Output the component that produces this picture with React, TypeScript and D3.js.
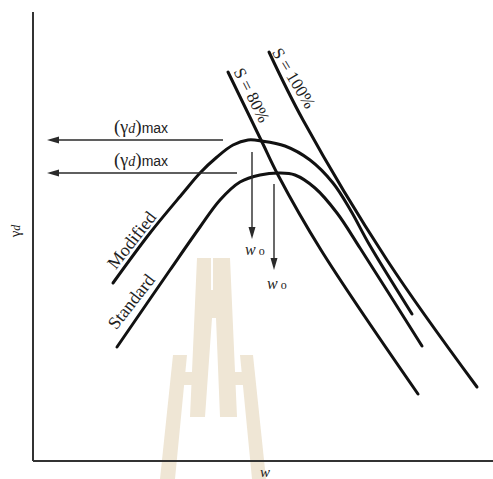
import React from "react";
import * as d3 from "d3";

// Data in arbitrary units: w (moisture) on x, gamma_d on y
const modifiedW = [8.0, 11.7, 15.0, 16.7, 18.4, 20.0, 21.5, 22.9, 25.2, 27.7, 30.0, 31.8, 33.6, 37.9];
const modifiedG = [17.8, 22.8, 26.8, 28.8, 30.4, 31.6, 32.1, 32.0, 31.5, 30.1, 27.8, 25.0, 21.7, 14.7];

const standardW = [8.4, 13.7, 16.7, 18.7, 20.7, 22.7, 24.7, 26.2, 28.2, 30.4, 32.7, 38.9];
const standardG = [11.4, 19.1, 23.4, 26.1, 27.9, 28.6, 28.8, 28.6, 27.3, 24.8, 21.3, 11.5];

const s80W = [19.5, 22.9, 24.5, 28.8, 38.5];
const s80G = [38.9, 31.9, 28.6, 21.1, 6.7];

const s100W = [23.6, 27.0, 35.4, 44.4];
const s100G = [40.9, 34.1, 20.1, 7.4];

// (gamma_d)max arrows: y level, start w, end w
const maxLevels = [32.1, 28.8];
const maxFrom = [19.0, 20.4];
const maxTo = [1.4, 1.4];

// w_o arrows: x position, start gamma, end gamma
const optW = [21.9, 24.1];
const optFrom = [30.9, 27.7];
const optTo = [22.2, 19.1];

// watermark polygons (decorative)
const watermark: [number, number][][] = [
  [[16.4, 20.3], [17.8, 20.3], [17.8, 17.1], [18.0, 17.1], [18.0, 20.3], [19.7, 20.3], [20.4, 4.4], [18.7, 4.4], [18.3, 14.3], [17.9, 14.3], [17.2, 4.4], [15.7, 4.4]],
  [[14.0, 10.6], [15.4, 10.6], [14.2, -1.8], [12.7, -1.8]],
  [[15.1, 8.9], [16.1, 8.9], [16.0, 7.6], [15.0, 7.6]],
  [[20.7, 10.6], [22.0, 10.6], [23.3, -1.8], [21.9, -1.8]],
  [[19.9, 8.9], [21.0, 8.9], [21.1, 7.6], [20.0, 7.6]],
];

const W = 493;
const H = 479;
const SERIF = "'Liberation Serif', 'DejaVu Serif', serif";
const SANS = "'Liberation Sans', Arial, sans-serif";

export default function App() {
  const xs = d3.scaleLinear().domain([0, 46]).range([33, 493]);
  const ys = d3.scaleLinear().domain([0, 45]).range([461, 11]);

  const line = d3
    .line<[number, number]>()
    .x((d) => xs(d[0]))
    .y((d) => ys(d[1]))
    .curve(d3.curveCatmullRom.alpha(0.5));

  const zip = (a: number[], b: number[]) => a.map((v, i) => [v, b[i]] as [number, number]);

  const curves = [
    zip(modifiedW, modifiedG),
    zip(standardW, standardG),
    zip(s80W, s80G),
    zip(s100W, s100G),
  ];

  const poly = d3.line<[number, number]>().x((d) => xs(d[0])).y((d) => ys(d[1]));

  const arrowColor = "#2a2a2a";

  return (
    <svg
      width={W}
      height={H}
      style={{ position: "absolute", left: 0, top: 0, background: "#fff", display: "block" }}
    >
      <rect width={W} height={H} fill="#fff" />
      {/* watermark */}
      {watermark.map((p, i) => (
        <path key={i} d={poly(p) + "Z"} fill="#efe6d5" />
      ))}

      {/* axes */}
      <line x1={xs(0)} y1={ys(44.9)} x2={xs(0)} y2={ys(0)} stroke="#333" strokeWidth={2} />
      <line x1={xs(0)} y1={ys(0)} x2={xs(46)} y2={ys(0)} stroke="#333" strokeWidth={2} />
      <text
        transform={`translate(${xs(-1.8)},${ys(23)}) rotate(-90)`}
        textAnchor="middle"
        fontFamily={SERIF}
        fontSize={15}
        fill="#222"
        dy="0.35em"
      >
        γ<tspan fontStyle="italic" fontSize={12}>d</tspan>
      </text>
      <text x={xs(23.2)} y={ys(-1.6)} textAnchor="middle" fontFamily={SERIF} fontStyle="italic" fontSize={15} fill="#222">
        w
      </text>

      {/* curves */}
      {curves.map((c, i) => (
        <path key={i} d={line(c) || ""} fill="none" stroke="#111" strokeWidth={3} strokeLinecap="round" />
      ))}

      {/* (gamma_d)max arrows */}
      {maxLevels.map((lv, i) => {
        const y = ys(lv);
        const x1 = xs(maxFrom[i]);
        const x2 = xs(maxTo[i]);
        return (
          <g key={i}>
            <line x1={x1} y1={y} x2={x2 + 8} y2={y} stroke={arrowColor} strokeWidth={1.4} />
            <path d={`M${x2},${y} L${x2 + 12},${y - 3.5} L${x2 + 12},${y + 3.5} Z`} fill={arrowColor} />
            <text x={xs(8.1)} y={y - 7} fontFamily={SERIF} fontSize={19} fill="#222">
              (<tspan fontSize={18}>γ</tspan>
              <tspan fontStyle="italic" fontSize={14}>d</tspan>)
              <tspan fontFamily={SANS} fontSize={14}>max</tspan>
            </text>
          </g>
        );
      })}

      {/* w_o arrows */}
      {optW.map((w, i) => {
        const x = xs(w);
        const y1 = ys(optFrom[i]);
        const y2 = ys(optTo[i]);
        return (
          <g key={i}>
            <line x1={x} y1={y1} x2={x} y2={y2 - 8} stroke={arrowColor} strokeWidth={1.4} />
            <path d={`M${x},${y2} L${x - 3.5},${y2 - 12} L${x + 3.5},${y2 - 12} Z`} fill={arrowColor} />
            <text x={x - 7} y={y2 + (i === 0 ? 16 : 19)} fontFamily={SERIF} fontSize={16} fill="#222">
              <tspan fontStyle="italic">w</tspan>
              <tspan dx={3} fontSize={12}>o</tspan>
            </text>
          </g>
        );
      })}

      {/* curve labels */}
      <text
        transform={`translate(${xs(9.85)},${ys(22.1)}) rotate(-52)`}
        textAnchor="middle"
        dy="0.35em"
        fontFamily={SERIF}
        fontSize={18}
        fill="#222"
      >
        Modified
      </text>
      <text
        transform={`translate(${xs(9.8)},${ys(15.95)}) rotate(-52)`}
        textAnchor="middle"
        dy="0.35em"
        fontFamily={SERIF}
        fontSize={18}
        fill="#222"
      >
        Standard
      </text>
      <text
        transform={`translate(${xs(21.9)},${ys(36.6)}) rotate(63)`}
        textAnchor="middle"
        dy="0.35em"
        fontFamily={SERIF}
        fontSize={17}
        fill="#222"
      >
        S = 80%
      </text>
      <text
        transform={`translate(${xs(26.1)},${ys(38.3)}) rotate(59)`}
        textAnchor="middle"
        dy="0.35em"
        fontFamily={SERIF}
        fontSize={17}
        fill="#222"
      >
        S = 100%
      </text>
    </svg>
  );
}
